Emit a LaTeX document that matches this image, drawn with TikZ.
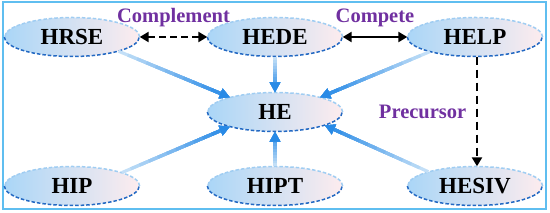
\documentclass[tikz,border=0pt]{standalone}
\usepackage{fontspec}
\setmainfont{Liberation Serif}
\usetikzlibrary{arrows.meta,calc,positioning,shapes.geometric}

\definecolor{frameblue}{RGB}{95,190,240}
\definecolor{fillblue}{RGB}{170,214,247}
\definecolor{fillpink}{RGB}{253,236,238}
\definecolor{rimdark}{RGB}{35,105,195}
\definecolor{rimlight}{RGB}{160,205,242}
\definecolor{feeddark}{RGB}{40,138,230}
\definecolor{feedlight}{RGB}{195,223,247}
\definecolor{tagpurple}{RGB}{112,48,160}

\begin{document}
\begin{tikzpicture}[
x=1pt, y=1pt,
factor/.style={ellipse, minimum width=135pt, minimum height=39pt, inner sep=0pt, left color=fillblue, right color=fillpink, font=\fontsize{23}{25}\selectfont\bfseries},
rimtop/.style={draw=rimlight, line width=1.5pt, dash pattern=on 3.5pt off 2pt},
rimbottom/.style={draw=rimdark, line width=1.5pt, dash pattern=on 3.5pt off 2pt},
relation/.style={{Triangle[length=9pt,width=10pt]}-{Triangle[length=9pt,width=10pt]}, line width=2.8pt, draw=black},
lead/.style={-{Triangle[length=9pt,width=10pt]}, line width=2.8pt, draw=black, dash pattern=on 8pt off 5pt},
feed/.style={-{Triangle[length=10pt,width=10pt]}, line width=3.2pt},
tag/.style={text=tagpurple, font=\fontsize{20.5}{22}\selectfont\bfseries}
]
\useasboundingbox (0,0) rectangle (550,213);
\draw[frameblue, line width=2pt] (3,4) rectangle (546,211);

% factors
\node[factor] (hrse) at (72,176) {HRSE};
\node[factor] (hede) at (275,176) {HEDE};
\node[factor] (help) at (475,176) {HELP};
\node[factor] (he) at (275,101) {HE};
\node[factor] (hip) at (72,27) {HIP};
\node[factor] (hipt) at (275,27) {HIPT};
\node[factor] (hesiv) at (475,27) {HESIV};

% dashed rims, light on top, dark below
\foreach \n in {hrse,hede,help,he,hip,hipt,hesiv} {
  \draw[rimtop] (\n.east) arc[start angle=0, end angle=180, x radius=67.5pt, y radius=19.5pt];
  \draw[rimbottom] (\n.west) arc[start angle=180, end angle=360, x radius=67.5pt, y radius=19.5pt];
}

% relations between factors
\draw[relation, dash pattern=on 7pt off 4pt] (hrse.east) -- (hede.west) node[tag, midway, above=5pt] (complement) {Complement};
\draw[relation] (hede.east) -- (help.west) node[tag, midway, above=5pt] (compete) {Compete};
\draw[lead] ([xshift=2pt]help.south) -- ([xshift=2pt]hesiv.north) node[tag, midway, left=6pt] (precursor) {Precursor};

% influences on HE, fading in towards the head
\foreach \src/\a/\b in {hrse/-17/162, hede/-90/90, help/-162/18, hip/15/-162, hipt/90/-90, hesiv/163/-15} {
  \foreach \k in {0,...,11} {
    \pgfmathsetmacro\pos{\k/12}
    \pgfmathtruncatemacro\mix{100-\k*100/11}
    \draw[feed, draw=feedlight!\mix!feeddark, fill=feedlight!\mix!feeddark] ($(\src.\a)!\pos!(he.\b)$) -- (he.\b);
  }
}
\end{tikzpicture}
\end{document}
